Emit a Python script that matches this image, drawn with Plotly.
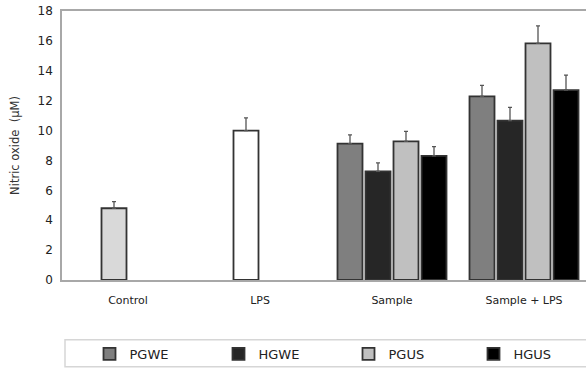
import plotly.graph_objects as go

categories = ["Control", "LPS", "Sample", "Sample + LPS"]

control_value = [4.8]
control_err = [0.45]
lps_value = [10.0]
lps_err = [0.85]

group_categories = ["Sample", "Sample + LPS"]
series_names = ["PGWE", "HGWE", "PGUS", "HGUS"]
pgwe = [9.13, 12.29]
hgwe = [7.27, 10.67]
pgus = [9.27, 15.84]
hgus = [8.31, 12.71]
pgwe_err = [0.58, 0.73]
hgwe_err = [0.57, 0.88]
pgus_err = [0.68, 1.16]
hgus_err = [0.62, 1.0]

y_ticks = [0, 2, 4, 6, 8, 10, 12, 14, 16, 18]

# layout geometry (pixels)
W, H = 586, 369
L, T, B = 62, 11, 88
plot_w = W - L
plot_h = H - T - B
cat_px = 132.0
bar_w = 25.0 / cat_px
pitch = 28.0 / cat_px

FONT = "DejaVu Sans, Verdana, sans-serif"
EDGE = "#333333"
ERR = "#555555"


def err(vals):
    return dict(type="data", array=vals, arrayminus=[0] * len(vals), symmetric=False,
                color=ERR, thickness=1.3, width=2)


fig = go.Figure()

fig.add_trace(go.Bar(x=["Control"], y=control_value, name="Control", showlegend=False,
                     width=bar_w, offset=-0.5 * pitch - bar_w / 2,
                     marker=dict(color="#d9d9d9", line=dict(color=EDGE, width=1.8)),
                     error_y=err(control_err)))
fig.add_trace(go.Bar(x=["LPS"], y=lps_value, name="LPS", showlegend=False,
                     width=bar_w, offset=-0.5 * pitch - bar_w / 2,
                     marker=dict(color="#ffffff", line=dict(color=EDGE, width=1.8)),
                     error_y=err(lps_err)))

series_vals = [pgwe, hgwe, pgus, hgus]
series_errs = [pgwe_err, hgwe_err, pgus_err, hgus_err]
series_colors = ["#7f7f7f", "#262626", "#c0c0c0", "#000000"]
legend_ids = ["legend", "legend2", "legend3", "legend4"]
for i, (nm, vals, ev, col) in enumerate(zip(series_names, series_vals, series_errs, series_colors)):
    off = (i - 1.5) * pitch - bar_w / 2
    fig.add_trace(go.Bar(x=group_categories, y=vals, name=nm, width=bar_w, offset=off,
                         legend=legend_ids[i],
                         marker=dict(color=col, line=dict(color=EDGE, width=1.8)),
                         error_y=err(ev)))

x_end = -0.5 + plot_w / cat_px

# legend entry positions (symbol centres, px)
legend_centres = [109, 238, 368, 493]
legend_layouts = {}
for lid, cx in zip(legend_ids, legend_centres):
    legend_layouts[lid] = dict(orientation="h", x=(cx - 19.5 - L) / plot_w, xanchor="left",
                               y=(281 - 355) / plot_h, yanchor="middle",
                               bgcolor="rgba(0,0,0,0)", borderwidth=0,
                               font=dict(size=13, color="#222222"))

fig.update_layout(
    width=W, height=H,
    margin=dict(l=L, r=0, t=T, b=B, pad=0),
    barmode="overlay",
    paper_bgcolor="white", plot_bgcolor="white",
    font=dict(family=FONT, size=11, color="#222222"),
    xaxis=dict(type="category", categoryorder="array", categoryarray=categories,
               range=[-0.5, x_end], showgrid=False, zeroline=False,
               showline=True, linecolor="#a8a8a8", linewidth=1.5, mirror=True,
               ticks="", ticklabelstandoff=9, tickfont=dict(size=11, color="#222222")),
    yaxis=dict(range=[0, 18], tickvals=y_ticks, showgrid=False, zeroline=False,
               showline=True, linecolor="#a8a8a8", linewidth=1.5,
               ticks="", ticklabelstandoff=5, tickfont=dict(size=12, color="#222222"),
               title=dict(text="Nitric oxide  (μM)", font=dict(size=11.5, color="#333333"),
                          standoff=16)),
    showlegend=True,
    shapes=[dict(type="rect", xref="paper", yref="paper",
                 x0=(65 - L) / plot_w, x1=(600 - L) / plot_w,
                 y0=(281 - 368) / plot_h, y1=(281 - 341) / plot_h,
                 line=dict(color="#d6d6d6", width=1.5), fillcolor="rgba(0,0,0,0)", layer="below")],
    **legend_layouts,
)

fig.write_html("out.html")
